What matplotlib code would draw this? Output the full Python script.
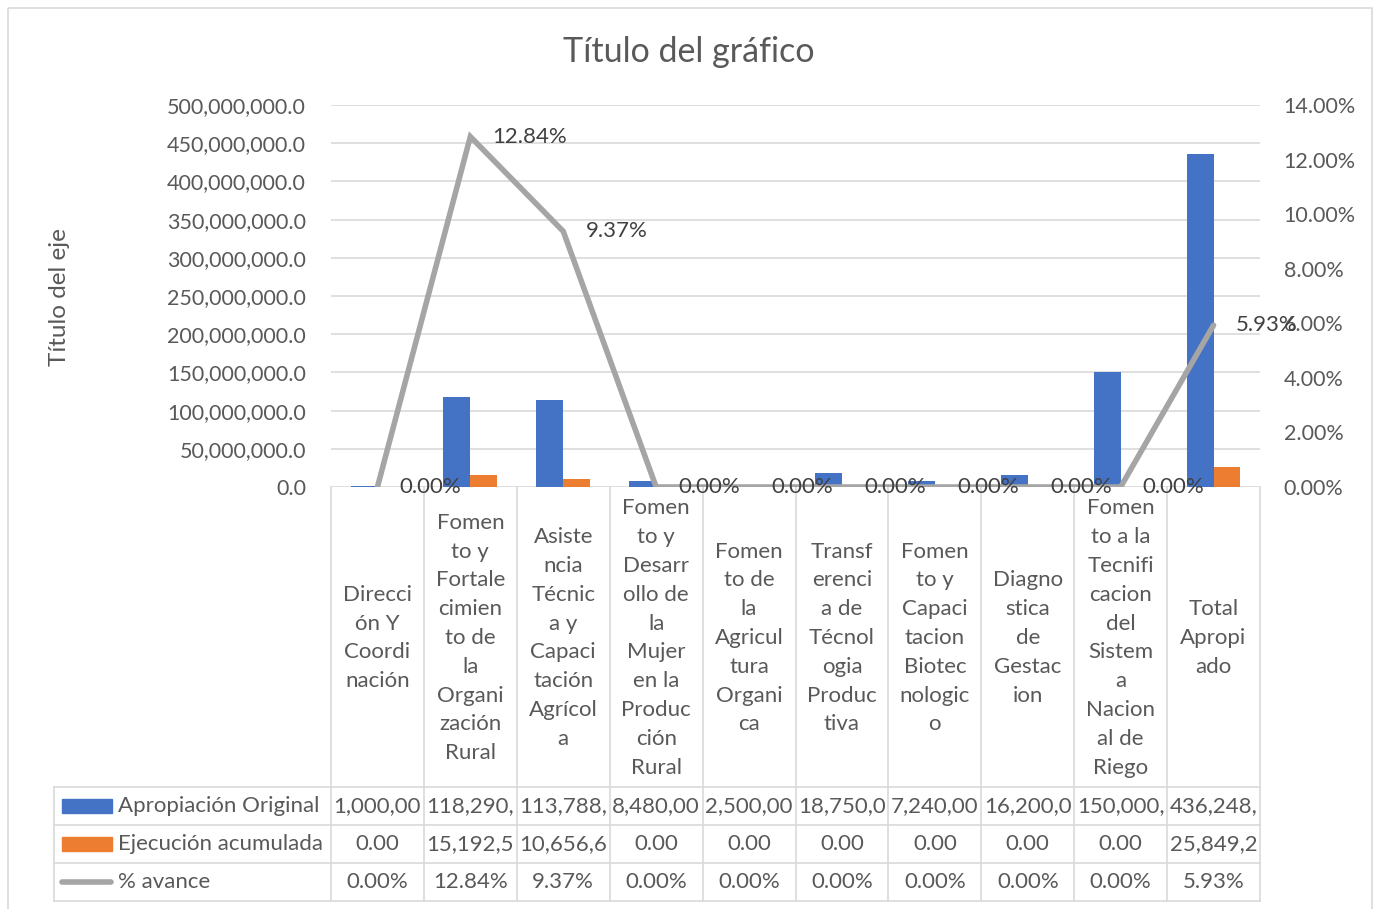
import numpy as np
import matplotlib
matplotlib.use("Agg")
import matplotlib.pyplot as plt
from matplotlib.patches import Rectangle
from matplotlib.lines import Line2D
from matplotlib.ticker import FuncFormatter

# data
categorias = [
    "Direcci\nón Y\nCoordi\nnación",
    "Fomen\nto y\nFortale\ncimien\nto de\nla\nOrgani\nzación\nRural",
    "Asiste\nncia\nTécnic\na y\nCapaci\ntación\nAgrícol\na",
    "Fomen\nto y\nDesarr\nollo de\nla\nMujer\nen la\nProduc\nción\nRural",
    "Fomen\nto de\nla\nAgricul\ntura\nOrgani\nca",
    "Transf\nerenci\na de\nTécnol\nogia\nProduc\ntiva",
    "Fomen\nto y\nCapaci\ntacion\nBiotec\nnologic\no",
    "Diagno\nstica\nde\nGestac\nion",
    "Fomen\nto a la\nTecnifi\ncacion\ndel\nSistem\na\nNacion\nal de\nRiego",
    "Total\nApropi\nado",
]
apropiacion = [1000000, 118290000, 113788000, 8480000, 2500000,
               18750000, 7240000, 16200000, 150000000, 436248000]
ejecucion = [0, 15192500, 10656600, 0, 0, 0, 0, 0, 0, 25849200]
avance = [0.0, 12.84, 9.37, 0.0, 0.0, 0.0, 0.0, 0.0, 0.0, 5.93]
series = ["Apropiación Original", "Ejecución acumulada", "% avance"]

plt.rcParams["font.family"] = ["Lato", "DejaVu Sans"]
GREY_TXT = "#595959"
GRID = "#D9D9D9"
BLUE, ORANGE, LINE = "#4472C4", "#ED7D31", "#A5A5A5"
FS = 16

W, H = 1377, 909
L, R, T, B = 331, 1260, 105, 487
fig = plt.figure(figsize=(W / 100, H / 100), dpi=100)

# overlay for table, frame and texts in pixel coords
ov = fig.add_axes([0, 0, 1, 1], zorder=0)
ov.set_xlim(0, W)
ov.set_ylim(H, 0)
ov.axis("off")

ax = fig.add_axes([L / W, 1 - B / H, (R - L) / W, (B - T) / H], zorder=1)
ax.patch.set_alpha(0)
x = np.arange(len(categorias))
bw = 0.29
ax.bar(x - bw / 2, apropiacion, width=bw, color=BLUE)
ax.bar(x + bw / 2, ejecucion, width=bw, color=ORANGE)
ax.set_xlim(-0.5, len(categorias) - 0.5)
ax.set_ylim(0, 500e6)
ax.set_yticks(np.arange(0, 500e6 + 1, 50e6))
ax.yaxis.set_major_formatter(FuncFormatter(lambda v, p: f"{v:,.1f}"))
ax.set_xticks([])
ax.grid(axis="y", color=GRID, lw=1.2)
ax.set_axisbelow(True)
for s in ax.spines.values():
    s.set_visible(False)
ax.tick_params(axis="y", length=0, pad=18, labelsize=15.5, labelcolor=GREY_TXT)

ax2 = ax.twinx()
ax2.plot(x, avance, color=LINE, lw=4, solid_capstyle="round", solid_joinstyle="miter")
ax2.set_ylim(0, 14)
ax2.set_yticks(np.arange(0, 15, 2))
ax2.yaxis.set_major_formatter(FuncFormatter(lambda v, p: f"{v:.2f}%"))
for s in ax2.spines.values():
    s.set_visible(False)
ax2.tick_params(axis="y", length=0, pad=17, labelsize=15.5, labelcolor=GREY_TXT)
for xi, v in zip(x, avance):
    ax2.annotate(f"{v:.2f}%", (xi, v), xytext=(16, 0), textcoords="offset points",
                 ha="left", va="center", fontsize=FS, color="#404040")

# title and axis title
ov.text(689, 52, "Título del gráfico", ha="center", va="center",
        fontsize=24.5, color=GREY_TXT)
ov.text(60, 297, "Título del eje", ha="center", va="center", rotation=90,
        fontsize=17.5, color=GREY_TXT)

# outer frame
ov.add_patch(Rectangle((8, 8), 1364, 920, fill=False, ec=GRID, lw=1.2))

# data table
n = len(categorias)
cw = (R - L) / n
rows = [787, 825, 863, 901]
tl = 54
for ry in rows:
    ov.add_line(Line2D([tl, R], [ry, ry], color=GRID, lw=1.2))
ov.add_line(Line2D([tl, tl], [rows[0], rows[-1]], color=GRID, lw=1.2))
for k in range(n + 1):
    ov.add_line(Line2D([L + k * cw] * 2, [B, rows[-1]], color=GRID, lw=1.2))

for i, cat in enumerate(categorias):
    cx = L + (i + 0.5) * cw
    ov.text(cx, (B + rows[0]) / 2 + 1, cat, ha="center", va="center", fontsize=FS,
            color=GREY_TXT, linespacing=1.55)

def cell(v):
    return "0.00" if v == 0 else f"{v:,.2f}"[:8]

row_vals = [[cell(v) for v in apropiacion], [cell(v) for v in ejecucion],
            [f"{v:.2f}%" for v in avance]]
for r in range(3):
    cy = (rows[r] + rows[r + 1]) / 2
    for i in range(n):
        cx = L + (i + 0.5) * cw
        ov.text(cx, cy, row_vals[r][i], ha="center", va="center", fontsize=FS,
                color=GREY_TXT)
    ov.text(118, cy, series[r], ha="left", va="center", fontsize=FS, color=GREY_TXT)

ov.add_patch(Rectangle((62, 799), 50, 14, color=BLUE))
ov.add_patch(Rectangle((62, 837), 50, 14, color=ORANGE))
ov.add_line(Line2D([62, 111], [882, 882], color=LINE, lw=4, solid_capstyle="round"))

fig.savefig("out.png", dpi=100)
